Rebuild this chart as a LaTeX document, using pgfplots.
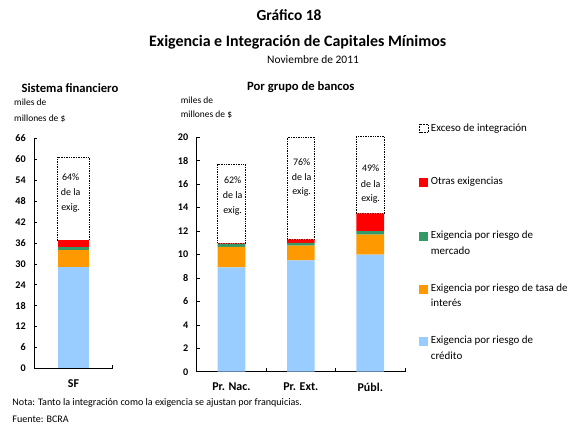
\documentclass[border=0pt]{standalone}
\usepackage{pgfplots}
\pgfplotsset{compat=1.18}
\usepackage{fontspec}
\setmainfont{Carlito}
\definecolor{ccred}{HTML}{99CCFF}
\definecolor{cint}{HTML}{FF9900}
\definecolor{cmkt}{HTML}{339966}
\definecolor{coth}{HTML}{FF0000}
\newcommand{\fs}[1]{\fontsize{#1}{#1}\selectfont}
\pgfplotsset{
  mybars/.style={
    scale only axis,
    ybar stacked,
    axis x line*=bottom, axis y line*=left,
    axis line style={black, line width=0.6bp},
    tick style={black, line width=0.5bp},
    tick align=inside,
    major tick length=3bp,
    minor tick length=3.5bp,
    major x tick style={draw=none},
    ymin=0, clip=false,
    enlarge y limits=false,
    /pgf/number format/assume math mode=true,
    yticklabel style={font=\fs{10.2}\bfseries, xshift=-5bp},
    xticklabel style={font=\fs{12}\bfseries, yshift=-8bp},
  },
  exc/.style={fill=white, draw=black, densely dotted, line width=0.7bp},
}
\begin{document}
\begin{tikzpicture}
\path[use as bounding box] (0,0) rectangle (580bp,-432bp);

% titles
\node[font=\fs{15.5}\bfseries] at (289bp,-15bp) {Gráfico 18};
\node[font=\fs{16}\bfseries] at (297.7bp,-42.7bp) {Exigencia e Integración de Capitales Mínimos};
\node[font=\fs{11.5}] at (313bp,-60bp) {Noviembre de 2011};
\node[font=\fs{12.7}\bfseries] at (70bp,-88.3bp) {Sistema financiero};
\node[font=\fs{12.7}\bfseries] at (300.8bp,-87.3bp) {Por grupo de bancos};
\node[font=\fs{9.5}, anchor=west, inner sep=0] at (14bp,-102.3bp) {miles de};
\node[font=\fs{9.5}, anchor=west, inner sep=0] at (14bp,-118.3bp) {millones de \$};
\node[font=\fs{9.5}, anchor=west, inner sep=0] at (180.7bp,-100.7bp) {miles de};
\node[font=\fs{9.5}, anchor=west, inner sep=0] at (180.7bp,-115bp) {millones de \$};

% left axis
\begin{axis}[mybars,
  at={(34.3bp,-368.3bp)}, anchor=south west,
  width=78.4bp, height=230bp,
  xmin=-0.5, xmax=0.5, ymax=66,
  ytick={0,6,...,66},
  xtick={0}, xticklabels={SF},
  minor xtick={0.5},
  bar width=31.6bp,
]
\addplot[fill=ccred, draw=none] coordinates {(0,29.0)};
\addplot[fill=cint, draw=none] coordinates {(0,5.0)};
\addplot[fill=cmkt, draw=none] coordinates {(0,0.8)};
\addplot[fill=coth, draw=none] coordinates {(0,1.9)};
\addplot[exc] coordinates {(0,23.8)};
\end{axis}

% right axis
\begin{axis}[mybars,
  at={(196.7bp,-371.7bp)}, anchor=south west,
  width=208.3bp, height=234.4bp,
  xmin=-0.5, xmax=2.5, ymax=20,
  ytick={0,2,...,20},
  xtick={0,1,2}, xticklabels={Pr. Nac., Pr. Ext., Públ.},
  minor xtick={0.5,1.5,2.5},
  bar width=27.7bp,
]
\addplot[fill=ccred, draw=none] coordinates {(0,8.9) (1,9.5) (2,10.0)};
\addplot[fill=cint, draw=none] coordinates {(0,1.75) (1,1.25) (2,1.7)};
\addplot[fill=cmkt, draw=none] coordinates {(0,0.25) (1,0.25) (2,0.3)};
\addplot[fill=coth, draw=none] coordinates {(0,0.05) (1,0.3) (2,1.5)};
\addplot[exc] coordinates {(0,6.75) (1,8.7) (2,6.6)};
\end{axis}

% annotations in bars
\begin{scope}[every node/.style={font=\fs{10}, inner sep=0}]
\node at (70.7bp,-176.7bp) {64\%};
\node at (70.7bp,-192bp) {de la};
\node at (70.7bp,-207.5bp) {exig.};
\node at (232.7bp,-180bp) {62\%};
\node at (232.7bp,-195.3bp) {de la};
\node at (232.7bp,-210.5bp) {exig.};
\node at (301.7bp,-161.7bp) {76\%};
\node at (301.7bp,-177bp) {de la};
\node at (301.7bp,-192.2bp) {exig.};
\node at (370.7bp,-168.3bp) {49\%};
\node at (370.7bp,-183.6bp) {de la};
\node at (370.7bp,-198.8bp) {exig.};
\end{scope}

% legend
\begin{scope}[every node/.style={font=\fs{11}, anchor=west, inner sep=0}]
\draw[black, densely dotted, line width=0.6bp] (419.5bp,-124bp) rectangle (428bp,-132.5bp);
\node at (430.7bp,-128.3bp) {Exceso de integración};
\fill[coth] (419bp,-177.5bp) rectangle (428bp,-186.5bp);
\node at (430.7bp,-181.7bp) {Otras exigencias};
\fill[cmkt] (419bp,-231.5bp) rectangle (428bp,-240.5bp);
\node at (430.7bp,-236bp) {Exigencia por riesgo de};
\node at (430.7bp,-250.3bp) {mercado};
\fill[cint] (419bp,-284.5bp) rectangle (428bp,-293.5bp);
\node at (430.7bp,-289bp) {Exigencia por riesgo de tasa de};
\node at (430.7bp,-302.7bp) {interés};
\fill[ccred] (419bp,-336.5bp) rectangle (428bp,-345.5bp);
\node at (430.7bp,-341bp) {Exigencia por riesgo de};
\node at (430.7bp,-356bp) {crédito};
\end{scope}

% notes
\node[font=\fs{10.1}, anchor=west, inner sep=0] at (12.3bp,-402.7bp) {Nota: Tanto la integración como la exigencia se ajustan por franquicias.};
\node[font=\fs{10.1}, anchor=west, inner sep=0] at (12.3bp,-419bp) {Fuente: BCRA};
\end{tikzpicture}
\end{document}
